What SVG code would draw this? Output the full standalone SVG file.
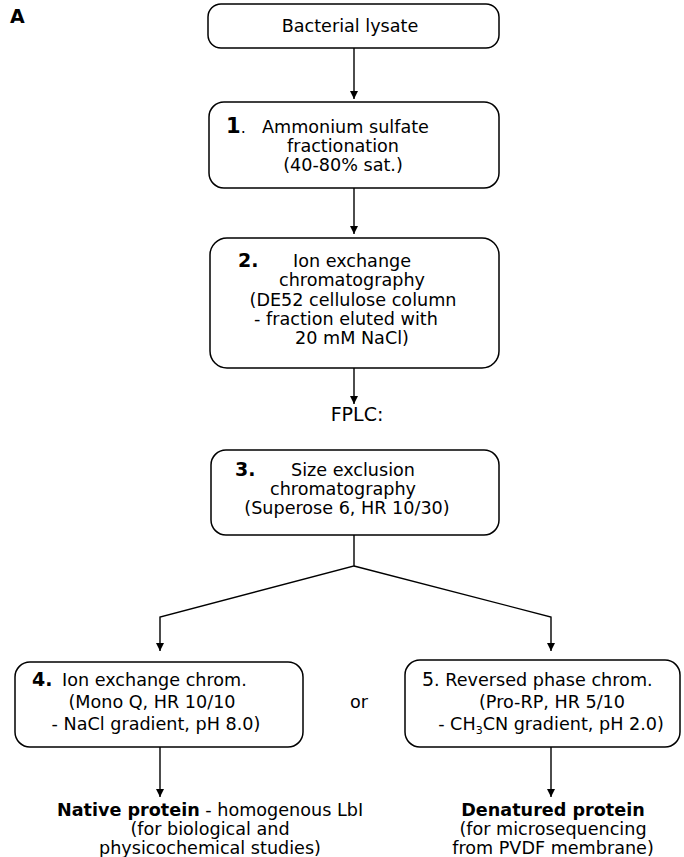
<svg xmlns="http://www.w3.org/2000/svg" width="684" height="857" viewBox="0 0 684 857">
<defs>
<marker id="ah" viewBox="0 0 10 10" refX="10" refY="5" markerWidth="8" markerHeight="9" markerUnits="userSpaceOnUse" orient="auto">
<path d="M0,0 L10,5 L0,10 z" fill="#000"/>
</marker>
<style>
.box{fill:#fff;stroke:#000;stroke-width:1.5}
.t{font-family:"DejaVu Sans","Liberation Sans",sans-serif;font-size:17.6px;fill:#000}
.c{text-anchor:middle}
.n{font-family:"DejaVu Sans","Liberation Sans",sans-serif;font-size:19px;font-weight:bold;fill:#000}
.b{font-weight:bold}
.ln{fill:none;stroke:#000;stroke-width:1.4}
</style>
</defs>
<rect width="684" height="857" fill="#fff"/>
<text x="10" y="23" class="n">A</text>

<g id="connectors">
<line class="ln" x1="354" y1="48" x2="354" y2="99" marker-end="url(#ah)"/>
<line class="ln" x1="354" y1="188" x2="354" y2="234" marker-end="url(#ah)"/>
<line class="ln" x1="354" y1="368" x2="354" y2="404" marker-end="url(#ah)"/>
<polyline class="ln" points="354,535 354,566 160,617 160,651" marker-end="url(#ah)"/>
<polyline class="ln" points="354,566 551,617 551,651" marker-end="url(#ah)"/>
<line class="ln" x1="160" y1="747" x2="160" y2="797" marker-end="url(#ah)"/>
<line class="ln" x1="551" y1="747" x2="551" y2="797" marker-end="url(#ah)"/>
</g>

<g id="lysate">
<rect class="box" x="208" y="4" width="291" height="44" rx="13"/>
<text class="t c" x="350" y="32">Bacterial lysate</text>
</g>

<g id="step1">
<rect class="box" x="209" y="102" width="290" height="86" rx="15"/>
<text class="n" x="226" y="133" style="font-size:21px">1<tspan style="font-size:16px;font-weight:normal">.</tspan></text>
<text class="t" x="262" y="133">Ammonium sulfate</text>
<text class="t c" x="343" y="152">fractionation</text>
<text class="t c" x="343" y="171">(40-80% sat.)</text>
</g>

<g id="step2">
<rect class="box" x="210" y="238" width="289" height="130" rx="17"/>
<text class="n" x="238" y="267">2.</text>
<text class="t c" x="352" y="267">Ion exchange</text>
<text class="t c" x="352" y="286">chromatography</text>
<text class="t c" x="353" y="306">(DE52 cellulose column</text>
<text class="t c" x="346" y="325">- fraction eluted with</text>
<text class="t c" x="352" y="344">20 mM NaCl)</text>
</g>

<text id="fplc" class="t c" x="357" y="421" style="font-size:19px">FPLC:</text>

<g id="step3">
<rect class="box" x="211" y="450" width="288" height="85" rx="15"/>
<text class="n" x="235" y="476">3.</text>
<text class="t c" x="353" y="476">Size exclusion</text>
<text class="t c" x="343" y="495">chromatography</text>
<text class="t c" x="347" y="514">(Superose 6, HR 10/30)</text>
</g>

<g id="step4">
<rect class="box" x="15" y="662" width="288" height="85" rx="15"/>
<text class="n" x="32" y="686">4.</text>
<text class="t" x="62" y="686">Ion exchange chrom.</text>
<text class="t c" x="152" y="708">(Mono Q, HR 10/10</text>
<text class="t c" x="156" y="730">- NaCl gradient, pH 8.0)</text>
</g>

<text id="or" class="t" x="350" y="708">or</text>

<g id="step5">
<rect class="box" x="405" y="660" width="275" height="87" rx="15"/>
<text class="t" x="422" y="686"><tspan style="font-size:19px">5</tspan>. Reversed phase chrom.</text>
<text class="t c" x="552" y="708">(Pro-RP, HR 5/10</text>
<text class="t c" x="551" y="730">- CH<tspan style="font-size:11px" dy="4">3</tspan><tspan dy="-4">CN gradient, pH 2.0)</tspan></text>
</g>

<g id="native">
<text class="t c" x="210" y="816"><tspan class="b">Native protein</tspan> - homogenous LbI</text>
<text class="t c" x="210" y="835">(for biological and</text>
<text class="t c" x="210" y="854">physicochemical studies)</text>
</g>

<g id="denatured">
<text class="t c b" x="553" y="816">Denatured protein</text>
<text class="t c" x="553" y="835">(for microsequencing</text>
<text class="t c" x="553" y="854">from PVDF membrane)</text>
</g>
</svg>
